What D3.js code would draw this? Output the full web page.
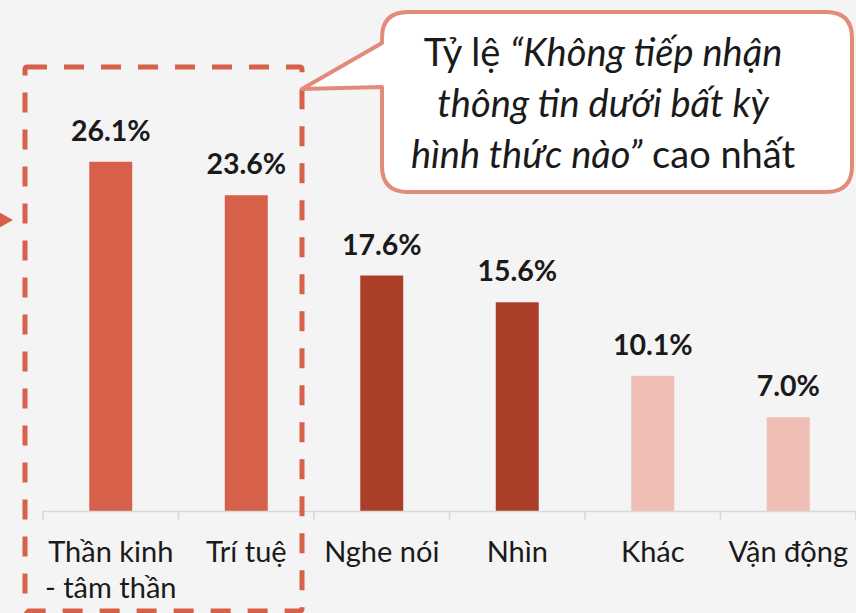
<!DOCTYPE html>
<html><head><meta charset="utf-8">
<script src="https://cdn.jsdelivr.net/npm/d3@7"></script>
<style>
html,body{margin:0;padding:0;background:#F4F4F4;}
svg{display:block;}
text{font-family:Lato,"Open Sans",sans-serif;}
</style></head><body>
<script>
const categories = ["Thần kinh - tâm thần", "Trí tuệ", "Nghe nói", "Nhìn", "Khác", "Vận động"];
const values = [26.1, 23.6, 17.6, 15.6, 10.1, 7.0];
const groups = ["highlight", "highlight", "dark", "dark", "light", "light"];
const calloutLines = [
  [{t:"Tỷ lệ ", i:false}, {t:"“Không tiếp nhận", i:true}],
  [{t:"thông tin dưới bất kỳ", i:true}],
  [{t:"hình thức nào”", i:true}, {t:" cao nhất", i:false}]
];

const W = 856, H = 613;
const svg = d3.select("body").append("svg").attr("width", W).attr("height", H);
svg.append("rect").attr("width", W).attr("height", H).attr("fill", "#F4F4F4");

const x = d3.scaleBand().domain(categories).range([43, 856]).paddingInner(0.683).paddingOuter(0.3415);
const y = d3.scaleLinear().domain([0, 30]).range([511, 109.6]);
const color = d3.scaleOrdinal().domain(["highlight","dark","light"]).range(["#D6604A","#AB3E28","#EFBFB5"]);

const data = categories.map((c, i) => ({c, v: values[i], g: groups[i]}));

// bars
svg.append("g").selectAll("rect").data(data).join("rect")
  .attr("x", d => x(d.c)).attr("width", x.bandwidth())
  .attr("y", d => y(d.v)).attr("height", d => y(0) - y(d.v))
  .attr("fill", d => color(d.g));

// value labels
svg.append("g").selectAll("text").data(data).join("text")
  .attr("x", d => x(d.c) + x.bandwidth()/2).attr("y", d => y(d.v) - 21)
  .attr("text-anchor", "middle").attr("font-weight", "bold").attr("font-size", 28.5)
  .attr("fill", "#1a1a1a").text(d => d.v.toFixed(1) + "%");

// axis
const axis = d3.axisBottom(x).tickSize(0).tickPadding(0).tickFormat("");
const ag = svg.append("g").attr("transform", `translate(0,${y(0)})`).call(axis);
ag.select(".domain").remove();
const [r0, r1] = x.range();
ag.append("line").attr("x1", r0).attr("x2", r1).attr("y1", 0.5).attr("y2", 0.5)
  .attr("stroke", "#D9D9D9").attr("stroke-width", 1.5);
const bounds = categories.map(c => x(c) - x.step()*x.paddingOuter()).concat([r1]);
ag.selectAll(".bt").data(bounds).join("line").attr("class","bt")
  .attr("x1", d => d).attr("x2", d => d).attr("y1", 0).attr("y2", 9)
  .attr("stroke", "#D9D9D9").attr("stroke-width", 1.5);
ag.selectAll(".tick").each(function(c){
  const lines = c.split(/ (?=- )/);
  const t = d3.select(this).append("text").attr("fill", "#1a1a1a").attr("font-size", 29)
    .attr("text-anchor", "middle").attr("y", 51);
  lines.forEach((l, i) => t.append("tspan").attr("x", 0).attr("dy", i ? 36 : 0).text(l));
});

// dashed highlight box
svg.append("rect").attr("x", 25).attr("y", 67).attr("width", 277).attr("height", 544)
  .attr("fill", "none").attr("stroke", "#D6604A").attr("stroke-width", 5)
  .attr("stroke-dasharray", "20 17").attr("rx", 2);

// left arrow
svg.append("path").attr("d", "M-10,207 L13,220 L-10,233 Z").attr("fill", "#D6604A");

// callout
const bx = 382, by = 12, bw = 470, bh = 180, r = 26;
const path = `M${bx+r},${by} H${bx+bw-r} Q${bx+bw},${by} ${bx+bw},${by+r} V${by+bh-r} Q${bx+bw},${by+bh} ${bx+bw-r},${by+bh}
 H${bx+r} Q${bx},${by+bh} ${bx},${by+bh-r} V87 L302,89 L${bx},43 V${by+r} Q${bx},${by} ${bx+r},${by} Z`;
svg.append("path").attr("d", path).attr("fill", "#FFFFFF").attr("stroke", "#E38B7B")
  .attr("stroke-width", 4).attr("stroke-linejoin", "round");
const ct = svg.append("g");
calloutLines.forEach((parts, i) => {
  const t = ct.append("text").attr("x", 603).attr("y", 66 + i*51).attr("text-anchor", "middle")
    .attr("font-size", 38).attr("fill", "#1a1a1a");
  parts.forEach(p => t.append("tspan").attr("font-style", p.i ? "italic" : "normal").text(p.t));
});
</script>
</body></html>
